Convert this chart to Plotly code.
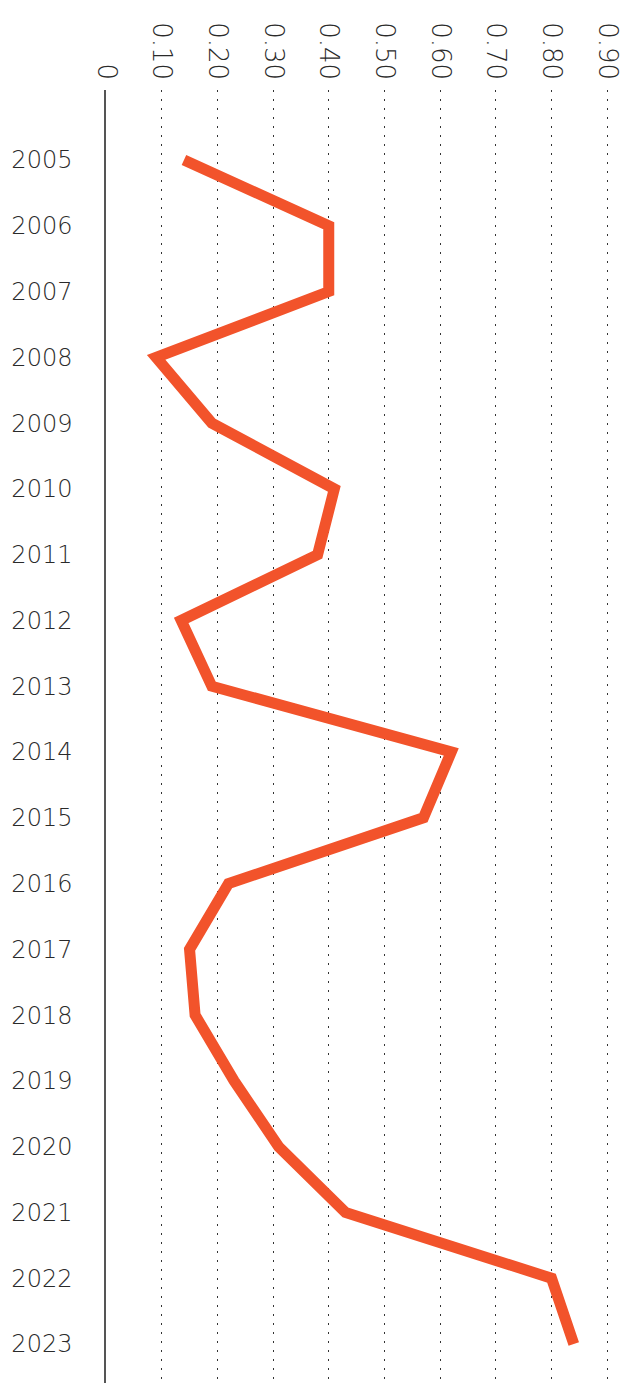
import plotly.graph_objects as go

years = list(range(2005, 2024))
values = [0.14, 0.40, 0.40, 0.09, 0.19, 0.41, 0.38, 0.135, 0.19, 0.62, 0.57,
          0.22, 0.15, 0.16, 0.23, 0.31, 0.43, 0.80, 0.84]
tick_vals = [0, 0.1, 0.2, 0.3, 0.4, 0.5, 0.6, 0.7, 0.8, 0.9]
tick_text = ["0", "0.10", "0.20", "0.30", "0.40", "0.50", "0.60", "0.70", "0.80", "0.90"]

FONT = "DejaVu Sans ExtraLight, DejaVu Sans Light, DejaVu Sans"

fig = go.Figure()
fig.add_trace(go.Scatter(
    x=values, y=years, mode="lines",
    line=dict(color="#F2532B", width=11),
    hoverinfo="x+y",
))

fig.update_layout(
    width=620, height=1379,
    margin=dict(l=98, r=8, t=82, b=4),
    paper_bgcolor="white", plot_bgcolor="white",
    showlegend=False,
    font=dict(family=FONT, color="#2a2a2a"),
    xaxis=dict(
        side="top", range=[0, 0.923],
        tickvals=tick_vals, ticktext=tick_text, tickangle=90,
        tickfont=dict(family=FONT, size=26, color="#2a2a2a"),
        showgrid=True, gridcolor="#333333", griddash="2px,7px", gridwidth=1,
        zeroline=False, showline=False, ticks="", ticklabelstandoff=5,
    ),
    yaxis=dict(
        range=[2023.593, 2003.936],
        tickvals=years, ticktext=[str(y) for y in years],
        tickfont=dict(family=FONT, size=24, color="#2a2a2a"),
        showgrid=False, zeroline=False,
        showline=True, linecolor="#555555", linewidth=1.5,
        ticks="", ticklabelstandoff=27,
    ),
)

fig.write_html("out.html")
